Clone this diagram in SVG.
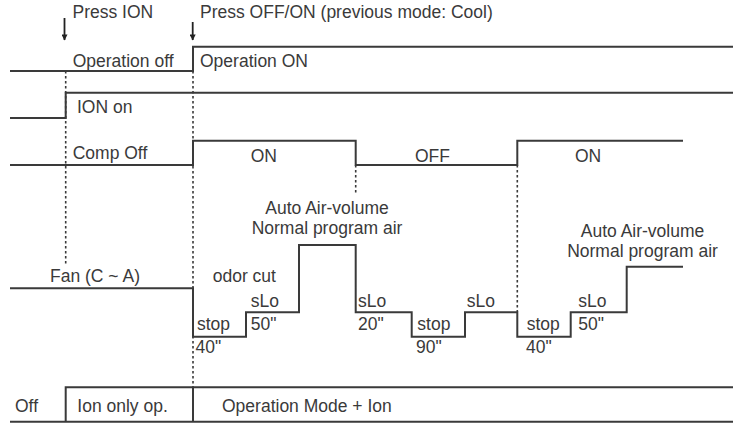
<svg xmlns="http://www.w3.org/2000/svg" width="733" height="425" viewBox="0 0 733 425">
<style>
.t{font-family:"Liberation Sans",Arial,sans-serif;font-size:17.5px;fill:#3a3a3a}
.s{fill:none;stroke:#3a3a3a;stroke-width:2}
.d{fill:none;stroke:#3a3a3a;stroke-width:1.6;stroke-dasharray:2.5,2.5}
.a{stroke:#222;stroke-width:1.8}
</style>
<defs>
<marker id="ah" viewBox="0 0 10 10" refX="9" refY="5" markerWidth="8" markerHeight="6" orient="auto" markerUnits="userSpaceOnUse">
<path d="M0,0 L10,5 L0,10 z" fill="#222"/>
</marker>
</defs>
<rect width="733" height="425" fill="#fff"/>
<g id="connectors">
<line class="d" x1="65.7" y1="71" x2="65.7" y2="265"/>
<line class="d" x1="193" y1="71" x2="193" y2="387"/>
<line class="d" x1="355.7" y1="165" x2="355.7" y2="194"/>
<line class="d" x1="517.3" y1="165" x2="517.3" y2="312"/>
<line class="a" x1="64.5" y1="18" x2="64.5" y2="40" marker-end="url(#ah)"/>
<line class="a" x1="192.7" y1="22" x2="192.7" y2="40" marker-end="url(#ah)"/>
</g>
<g id="operation">
<polyline class="s" points="10,71 193,71 193,46.7 733,46.7"/>
<text class="t" x="72.7" y="66.5">Operation off</text>
<text class="t" x="200" y="66.5">Operation ON</text>
</g>
<g id="ion">
<polyline class="s" points="10,118 65.7,118 65.7,92.7 733,92.7"/>
<text class="t" x="77" y="112.5">ION on</text>
</g>
<g id="comp">
<polyline class="s" points="10,165 193,165 193,140.7 355.7,140.7 355.7,165 517.3,165 517.3,140.7 683,140.7"/>
<text class="t" x="72.7" y="159.3">Comp Off</text>
<text class="t" x="250.7" y="162.3">ON</text>
<text class="t" x="415" y="162.3">OFF</text>
<text class="t" x="575" y="162.3">ON</text>
</g>
<g id="fan">
<polyline class="s" points="10,288.3 193,288.3 193,336.7 246,336.7 246,312.3 299,312.3 299,245 355.7,245 355.7,312.3 411.7,312.3 411.7,336.7 465,336.7 465,312.3 517.3,312.3 517.3,336.7 570.7,336.7 570.7,312.3 626.7,312.3 626.7,266.7 683,266.7"/>
<text class="t" x="50" y="281.7">Fan (C ~ A)</text>
<text class="t" x="212.7" y="281.7">odor cut</text>
<text class="t" x="327" y="214" text-anchor="middle">Auto Air-volume</text>
<text class="t" x="327" y="234" text-anchor="middle">Normal program air</text>
<text class="t" x="642.5" y="236.7" text-anchor="middle">Auto Air-volume</text>
<text class="t" x="642.5" y="256.7" text-anchor="middle">Normal program air</text>
<text class="t" x="250.7" y="306.7">sLo</text>
<text class="t" x="197" y="330">stop</text>
<text class="t" x="250.7" y="330">50"</text>
<text class="t" x="195.5" y="353.3">40"</text>
<text class="t" x="358" y="306.7">sLo</text>
<text class="t" x="358" y="330">20"</text>
<text class="t" x="417.3" y="330">stop</text>
<text class="t" x="416" y="353.3">90"</text>
<text class="t" x="466.7" y="306.7">sLo</text>
<text class="t" x="526.7" y="330">stop</text>
<text class="t" x="526" y="353.3">40"</text>
<text class="t" x="578.3" y="306.7">sLo</text>
<text class="t" x="578.3" y="330">50"</text>
</g>
<g id="mode">
<polyline class="s" points="10,421.7 733,421.7"/>
<polyline class="s" points="65.7,421.7 65.7,387.3 733,387.3"/>
<line class="s" x1="193" y1="387.3" x2="193" y2="421.7"/>
<text class="t" x="15" y="411.7">Off</text>
<text class="t" x="77.3" y="411.7">Ion only op.</text>
<text class="t" x="222" y="411.7">Operation Mode + Ion</text>
</g>
<g id="labels">
<text class="t" x="72.5" y="18">Press ION</text>
<text class="t" x="200" y="18">Press OFF/ON (previous mode: Cool)</text>
</g>
</svg>
